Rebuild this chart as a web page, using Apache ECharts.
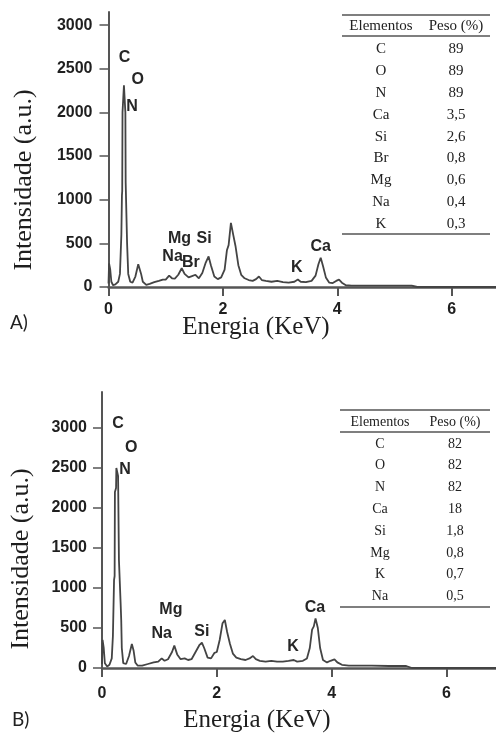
<!DOCTYPE html>
<html>
<head>
<meta charset="utf-8">
<script src="https://cdn.jsdelivr.net/npm/echarts@6/dist/echarts.min.js"></script>
<style>
  html, body { margin: 0; padding: 0; background: #ffffff; }
  #chart { width: 496px; height: 740px; }
</style>
</head>
<body>
<div id="chart"></div>
<script>
// ---- Spectrum A (energy in keV, intensity in a.u.) ----
const energyA = [0.00, 0.01, 0.03, 0.05, 0.08, 0.12, 0.17, 0.20, 0.225, 0.235, 0.24, 0.245, 0.265, 0.27, 0.29, 0.295, 0.30, 0.315, 0.325, 0.345, 0.38, 0.42, 0.47, 0.52, 0.54, 0.57, 0.60, 0.66, 0.72, 0.80, 0.88, 0.95, 1.00, 1.06, 1.11, 1.16, 1.22, 1.28, 1.33, 1.40, 1.46, 1.52, 1.58, 1.64, 1.70, 1.75, 1.79, 1.85, 1.91, 1.97, 2.03, 2.07, 2.10, 2.14, 2.18, 2.22, 2.27, 2.32, 2.38, 2.45, 2.52, 2.58, 2.63, 2.68, 2.75, 2.85, 2.95, 3.05, 3.15, 3.25, 3.31, 3.36, 3.45, 3.55, 3.62, 3.67, 3.71, 3.75, 3.80, 3.86, 3.92, 3.98, 4.03, 4.08, 4.15, 4.25, 4.60, 5.00, 5.30, 5.40, 6.80];
const intensityA = [40, 270, 200, 60, 20, 30, 60, 150, 600, 1050, 1100, 2000, 2000, 2310, 2300, 2000, 1200, 1190, 500, 150, 60, 50, 120, 260, 278, 150, 60, 25, 35, 55, 70, 85, 85, 130, 100, 95, 140, 215, 150, 110, 125, 140, 100, 160, 280, 350, 250, 120, 90, 110, 200, 420, 480, 735, 600, 470, 250, 140, 100, 80, 70, 90, 120, 80, 70, 60, 70, 55, 50, 60, 85, 60, 55, 70, 130, 260, 335, 240, 110, 50, 45, 70, 85, 50, 20, 15, 15, 15, 15, 0, 0];

// ---- Spectrum B ----
const energyB = [0.00, 0.01, 0.03, 0.05, 0.09, 0.13, 0.17, 0.19, 0.21, 0.22, 0.225, 0.245, 0.25, 0.27, 0.28, 0.295, 0.31, 0.325, 0.335, 0.345, 0.37, 0.42, 0.47, 0.52, 0.55, 0.58, 0.62, 0.70, 0.80, 0.90, 0.98, 1.04, 1.09, 1.15, 1.22, 1.26, 1.31, 1.37, 1.44, 1.50, 1.56, 1.63, 1.70, 1.74, 1.78, 1.84, 1.90, 1.96, 2.00, 2.05, 2.10, 2.14, 2.18, 2.23, 2.28, 2.34, 2.42, 2.50, 2.57, 2.63, 2.68, 2.75, 2.85, 2.95, 3.05, 3.15, 3.25, 3.34, 3.40, 3.50, 3.57, 3.62, 3.66, 3.69, 3.72, 3.76, 3.80, 3.85, 3.92, 3.98, 4.05, 4.10, 4.18, 4.30, 4.70, 5.00, 5.30, 5.40, 6.90];
const intensityB = [50, 350, 250, 60, 20, 40, 120, 400, 1100, 1150, 2200, 2250, 2500, 2520, 2400, 1350, 1330, 800, 600, 250, 60, 50, 150, 300, 220, 70, 30, 30, 50, 70, 80, 120, 90, 110, 200, 280, 170, 110, 120, 100, 110, 200, 290, 316, 250, 130, 120, 190, 200, 350, 560, 600, 450, 300, 180, 130, 110, 100, 120, 150, 110, 90, 80, 90, 80, 80, 90, 100, 80, 90, 120, 250, 480, 520, 620, 500, 250, 100, 70, 90, 108, 70, 40, 30, 30, 25, 25, 0, 0];

// ---- Peak annotations: element, energy (keV), label height (a.u.) ----
const peakNamesA = ['C', 'O', 'N', 'Mg', 'Si', 'Na', 'Br', 'K', 'Ca'];
const peakEnergyA = [0.28, 0.51, 0.41, 1.24, 1.67, 1.12, 1.44, 3.29, 3.71];
const peakLevelA = [2630, 2380, 2070, 560, 550, 343, 275, 217, 458];

const peakNamesB = ['C', 'O', 'N', 'Mg', 'Na', 'Si', 'K', 'Ca'];
const peakEnergyB = [0.28, 0.51, 0.40, 1.20, 1.04, 1.74, 3.33, 3.71];
const peakLevelB = [3060, 2760, 2475, 725, 434, 454, 266, 758];

// ---- Composition tables ----
const tableHeader = ['Elementos', 'Peso (%)'];
const elementsA = ['C', 'O', 'N', 'Ca', 'Si', 'Br', 'Mg', 'Na', 'K'];
const weightA = ['89', '89', '89', '3,5', '2,6', '0,8', '0,6', '0,4', '0,3'];
const elementsB = ['C', 'O', 'N', 'Ca', 'Si', 'Mg', 'K', 'Na'];
const weightB = ['82', '82', '82', '18', '1,8', '0,8', '0,7', '0,5'];

// ---- Axis ticks ----
const xTicks = [0, 2, 4, 6];
const yTicks = [0, 500, 1000, 1500, 2000, 2500, 3000];

const zip = (xs, ys) => xs.map((x, i) => [x, ys[i]]);
const tickFont = { fontFamily: 'Liberation Sans, Arial, sans-serif', fontWeight: 'bold', fontSize: 16, color: '#1f1f1f' };
const axisGray = '#555555';

function xAxisDef(gridIndex, max, labelMargin) {
  return {
    type: 'value', gridIndex, min: 0, max, interval: 2,
    axisLine: { show: true, onZero: false, lineStyle: { color: axisGray, width: 2.5 } },
    axisTick: { show: true, inside: false, length: 9, customValues: xTicks, lineStyle: { color: axisGray, width: 2 } },
    axisLabel: Object.assign({ margin: labelMargin, customValues: xTicks, formatter: v => String(v) }, tickFont),
    splitLine: { show: false }
  };
}
function yAxisDef(gridIndex, max, labelMargin) {
  return {
    type: 'value', gridIndex, min: 0, max, interval: 500,
    axisLine: { show: true, lineStyle: { color: axisGray, width: 2 } },
    axisTick: { show: true, inside: false, length: 9, customValues: yTicks, lineStyle: { color: axisGray, width: 1.5 } },
    axisLabel: Object.assign({ margin: labelMargin, customValues: yTicks, formatter: v => String(v) }, tickFont),
    splitLine: { show: false }
  };
}
function spectrum(idx, data) {
  return {
    type: 'line', xAxisIndex: idx, yAxisIndex: idx, data,
    showSymbol: false, symbol: 'none', smooth: false, animation: false,
    lineStyle: { color: '#444444', width: 1.8 }, z: 3
  };
}
function peakLabels(idx, names, energies, levels) {
  return {
    type: 'scatter', xAxisIndex: idx, yAxisIndex: idx, symbolSize: 0, animation: false, silent: true,
    data: names.map((n, i) => ({ name: n, value: [energies[i], levels[i]] })),
    itemStyle: { color: '#222222', opacity: 1 },
    label: {
      show: true, position: 'inside', formatter: p => p.name, opacity: 1,
      textBorderWidth: 0,
      fontFamily: 'Liberation Sans, Arial, sans-serif', fontWeight: 'bold', fontSize: 16, color: '#262626'
    }, z: 4
  };
}

// Table drawn as graphic text and rules
function tableGraphic(names, values, g) {
  const els = [];
  const rule = (y) => ({ type: 'line', shape: { x1: g.x1, y1: y, x2: g.x2, y2: y }, style: { stroke: '#555', lineWidth: 1.3 } });
  const txt = (x, y, s) => ({ type: 'text', x, y, style: { text: s, fontFamily: 'Liberation Serif, Times New Roman, serif', fontSize: g.fs, fill: '#222', align: 'center', verticalAlign: 'middle' } });
  els.push(rule(g.top));
  els.push(txt(g.c1, g.head, tableHeader[0]));
  els.push(txt(g.c2, g.head, tableHeader[1]));
  els.push(rule(g.headLine));
  names.forEach((n, i) => {
    const y = g.row0 + i * g.step;
    els.push(txt(g.c1, y, n));
    els.push(txt(g.c2, y, values[i]));
  });
  els.push(rule(g.bottom));
  return els;
}

const serifTitle = { fontFamily: 'Liberation Serif, Times New Roman, serif', fill: '#1e1e1e' };
const graphics = [].concat(
  tableGraphic(elementsA, weightA, { x1: 342, x2: 490, top: 15, head: 26.5, headLine: 36, row0: 49, step: 21.9, bottom: 234, c1: 381, c2: 456, fs: 15 }),
  tableGraphic(elementsB, weightB, { x1: 340, x2: 490, top: 410, head: 422, headLine: 432, row0: 444, step: 21.8, bottom: 607, c1: 380, c2: 455, fs: 14 }),
  [
    { type: 'text', x: 24, y: 180, rotation: Math.PI / 2, style: Object.assign({ text: 'Intensidade (a.u.)', fontSize: 26, align: 'center', verticalAlign: 'middle' }, serifTitle) },
    { type: 'text', x: 21, y: 559, rotation: Math.PI / 2, style: Object.assign({ text: 'Intensidade (a.u.)', fontSize: 26, align: 'center', verticalAlign: 'middle' }, serifTitle) },
    { type: 'text', x: 256, y: 327, style: Object.assign({ text: 'Energia (KeV)', fontSize: 25, align: 'center', verticalAlign: 'middle' }, serifTitle) },
    { type: 'text', x: 257, y: 720, style: Object.assign({ text: 'Energia (KeV)', fontSize: 25, align: 'center', verticalAlign: 'middle' }, serifTitle) },
    { type: 'text', x: 10, y: 323, style: { text: 'A)', fontFamily: 'Lato, Open Sans, sans-serif', fontSize: 19, fill: '#222', verticalAlign: 'middle' } },
    { type: 'text', x: 12, y: 720, style: { text: 'B)', fontFamily: 'Lato, Open Sans, sans-serif', fontSize: 19, fill: '#222', verticalAlign: 'middle' } }
  ]
);

const chart = echarts.init(document.getElementById('chart'), null, { renderer: 'canvas' });
chart.setOption({
  backgroundColor: '#ffffff',
  animation: false,
  grid: [
    { left: 108.5, top: 12, width: 387.5, height: 275 },
    { left: 102, top: 392, width: 394, height: 276 }
  ],
  xAxis: [xAxisDef(0, 387.5 / 57.2, 15), xAxisDef(1, 394 / 57.4, 18)],
  yAxis: [yAxisDef(0, 3150, 16), yAxisDef(1, 3450, 15)],
  series: [
    spectrum(0, zip(energyA, intensityA)),
    spectrum(1, zip(energyB, intensityB)),
    peakLabels(0, peakNamesA, peakEnergyA, peakLevelA),
    peakLabels(1, peakNamesB, peakEnergyB, peakLevelB)
  ],
  graphic: graphics
});
</script>
</body>
</html>
